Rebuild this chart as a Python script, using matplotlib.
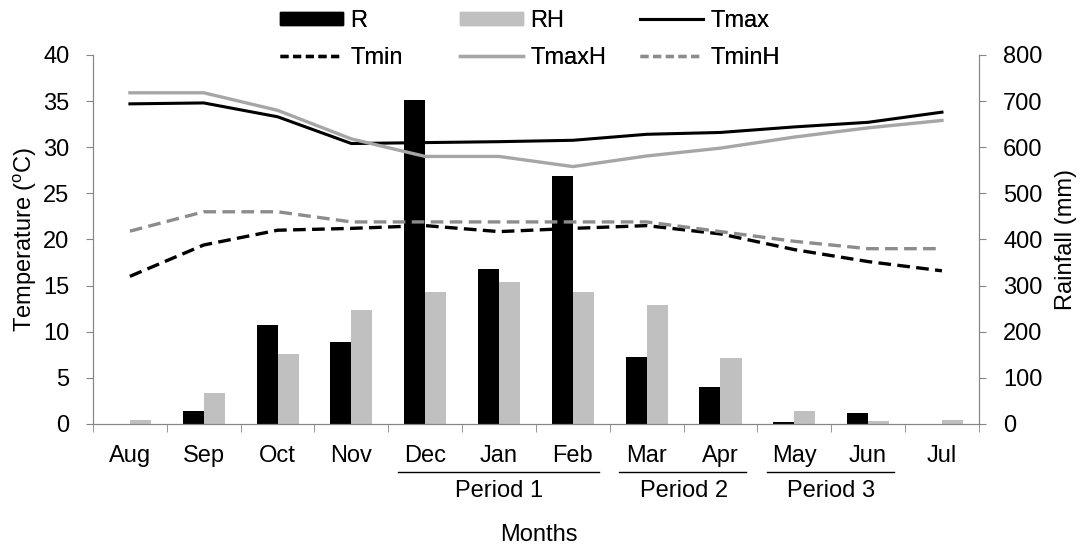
import numpy as np
import matplotlib.pyplot as plt
from matplotlib.patches import Patch
from matplotlib.lines import Line2D

plt.rcParams['font.family'] = ['Liberation Sans', 'DejaVu Sans']
plt.rcParams['mathtext.fontset'] = 'custom'
plt.rcParams['mathtext.rm'] = 'Liberation Sans'
fs = 17

months = ['Aug', 'Sep', 'Oct', 'Nov', 'Dec', 'Jan', 'Feb', 'Mar', 'Apr', 'May', 'Jun', 'Jul']
R = [0, 27, 214, 177, 702, 335, 538, 146, 81, 4, 24, 0]
RH = [8, 68, 151, 247, 286, 307, 286, 258, 143, 28, 6, 8]
Tmax = [34.7, 34.8, 33.3, 30.4, 30.5, 30.6, 30.75, 31.4, 31.6, 32.2, 32.7, 33.8]
TmaxH = [35.9, 35.9, 34.0, 30.9, 29.0, 29.0, 27.9, 29.05, 29.9, 31.1, 32.1, 32.9]
Tmin = [16.0, 19.4, 21.0, 21.2, 21.5, 20.85, 21.2, 21.5, 20.6, 18.9, 17.6, 16.6]
TminH = [20.9, 23.0, 23.0, 21.9, 21.9, 21.9, 21.9, 21.9, 20.85, 19.8, 19.0, 19.0]
periods = [('Period 1', 4, 6), ('Period 2', 7, 8), ('Period 3', 9, 10)]

c_black = 'black'
c_bar_gray = '#c0c0c0'
c_line_gray = '#a6a6a6'
c_dash_gray = '#8c8c8c'
axis_gray = '#868686'
dash = (0, (3.8, 1.9))
leg_dash = (0, (2.4, 1.4))

fig = plt.figure(figsize=(10.84, 5.47), dpi=100)
ax = fig.add_axes([0.0858, 0.225, 0.8172, 0.6745])
ax2 = ax.twinx()

x = np.arange(len(months))
w = 0.285
ax2.bar(x - w / 2, R, width=w, color=c_black, zorder=1)
ax2.bar(x + w / 2, RH, width=w, color=c_bar_gray, zorder=1)
ax2.set_ylim(0, 800)
ax2.set_yticks(range(0, 801, 100))

# temperature lines drawn above the bars
ax.set_zorder(ax2.get_zorder() + 1)
ax.patch.set_visible(False)
ax.plot(x, Tmax, color=c_black, lw=2.2)
ax.plot(x, Tmin, color=c_black, lw=2.4, ls=dash)
ax.plot(x, TmaxH, color=c_line_gray, lw=2.4)
ax.plot(x, TminH, color=c_dash_gray, lw=2.4, ls=dash)
ax.set_ylim(0, 40)
ax.set_yticks(range(0, 41, 5))
ax.set_xlim(-0.5, len(months) - 0.5)
ax.set_xticks(x)
ax.set_xticklabels(months)
ax.set_xticks(np.arange(-0.5, len(months)), minor=True)
ax.tick_params(axis='x', which='major', length=0, pad=15, labelsize=fs)
ax.tick_params(axis='x', which='minor', length=6, color=axis_gray)
ax.tick_params(axis='y', length=5, pad=12, color=axis_gray, labelsize=fs)
ax2.tick_params(axis='y', length=5, pad=12.5, color=axis_gray, labelsize=fs)

for a in (ax, ax2):
    a.spines['top'].set_visible(False)
    for s in ('left', 'right', 'bottom'):
        a.spines[s].set_color(axis_gray)

ax.set_ylabel('Temperature ($^{\\rm o}$C)', fontsize=fs, va='center')
ax2.set_ylabel('Rainfall (mm)', fontsize=fs, va='center')
ax.yaxis.set_label_coords(-0.077, 0.5)
ax2.yaxis.set_label_coords(1.098, 0.5)

# period brackets under the month labels
for name, i0, i1 in periods:
    ax.plot([i0 - 0.37, i1 + 0.35], [-5.2, -5.2], color='black', lw=1,
            clip_on=False)
    ax.text((i0 + i1) / 2, -6.1, name, ha='center', va='top', fontsize=fs)

fig.text(0.497, 1 - 541 / 547, 'Months', ha='center', va='baseline', fontsize=fs)

# legend: three columns placed like the original
cols = [
    ([Patch(color=c_black), Line2D([], [], color=c_black, lw=2.4, ls=leg_dash)], ['R', 'Tmin'], 280),
    ([Patch(color=c_bar_gray), Line2D([], [], color=c_line_gray, lw=2.4)], ['RH', 'TmaxH'], 460),
    ([Line2D([], [], color=c_black, lw=2.2), Line2D([], [], color=c_dash_gray, lw=2.4, ls=leg_dash)], ['Tmax', 'TminH'], 640),
]
for hs, ls, px in cols:
    leg = fig.legend(hs, ls, loc='upper left', bbox_to_anchor=(px / 1084, 1 - 10 / 547),
                     frameon=False, fontsize=fs, handlelength=2.67, handleheight=0.5,
                     handletextpad=0.3, labelspacing=0.62, borderpad=0, borderaxespad=0)
    fig.add_artist(leg)

fig.savefig('out.png', dpi=100)
